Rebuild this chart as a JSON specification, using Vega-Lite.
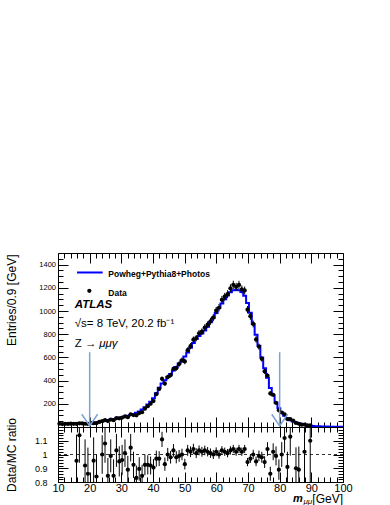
{
"$schema": "https://vega.github.io/schema/vega-lite/v6.json",
"padding": {"left": 4, "top": 252, "right": 5, "bottom": 0},
"spacing": 0,
"bounds": "flush",
"background": "white",
"config": {
  "font": "Liberation Sans",
  "view": {"stroke": "black", "strokeWidth": 1},
  "axis": {"domain": false, "grid": false, "tickColor": "black", "labelColor": "black", "titleColor": "black", "labelFont": "Liberation Sans", "titleFont": "Liberation Sans", "titleFontWeight": "normal", "tickWidth": 1, "labelFlush": false}
},
"datasets": {
  "mc": [
    {"lo":10,"mc":26},{"lo":10.9,"mc":26},{"lo":11.8,"mc":26},{"lo":12.7,"mc":27},{"lo":13.6,"mc":27},{"lo":14.5,"mc":27},{"lo":15.4,"mc":28},{"lo":16.3,"mc":28},{"lo":17.2,"mc":29},{"lo":18.1,"mc":30},
    {"lo":19,"mc":30},{"lo":19.9,"mc":32},{"lo":20.8,"mc":35},{"lo":21.7,"mc":39},{"lo":22.6,"mc":44},{"lo":23.5,"mc":50},{"lo":24.4,"mc":55},{"lo":25.3,"mc":60},{"lo":26.2,"mc":65},{"lo":27.1,"mc":70},
    {"lo":28,"mc":74},{"lo":28.9,"mc":79},{"lo":29.8,"mc":84},{"lo":30.7,"mc":90},{"lo":31.6,"mc":96},{"lo":32.5,"mc":104},{"lo":33.4,"mc":111},{"lo":34.3,"mc":122},{"lo":35.2,"mc":134},{"lo":36.1,"mc":151},
    {"lo":37,"mc":171},{"lo":37.9,"mc":194},{"lo":38.8,"mc":218},{"lo":39.7,"mc":248},{"lo":40.6,"mc":292},{"lo":41.5,"mc":338},{"lo":42.4,"mc":374},{"lo":43.3,"mc":402},{"lo":44.2,"mc":430},{"lo":45.1,"mc":456},
    {"lo":46,"mc":486},{"lo":46.9,"mc":517},{"lo":47.8,"mc":548},{"lo":48.7,"mc":575},{"lo":49.6,"mc":607},{"lo":50.5,"mc":643},{"lo":51.4,"mc":683},{"lo":52.3,"mc":724},{"lo":53.2,"mc":758},{"lo":54.1,"mc":784},
    {"lo":55,"mc":806},{"lo":55.9,"mc":832},{"lo":56.8,"mc":865},{"lo":57.7,"mc":902},{"lo":58.6,"mc":942},{"lo":59.5,"mc":983},{"lo":60.4,"mc":1028},{"lo":61.3,"mc":1065},{"lo":62.2,"mc":1101},{"lo":63.1,"mc":1134},
    {"lo":64,"mc":1161},{"lo":64.9,"mc":1179},{"lo":65.8,"mc":1184},{"lo":66.7,"mc":1178},{"lo":67.6,"mc":1163},{"lo":68.5,"mc":1132},{"lo":69.4,"mc":1070},{"lo":70.3,"mc":985},{"lo":71.2,"mc":888},{"lo":72.1,"mc":795},
    {"lo":73,"mc":700},{"lo":73.9,"mc":600},{"lo":74.8,"mc":507},{"lo":75.7,"mc":425},{"lo":76.6,"mc":336},{"lo":77.5,"mc":273},{"lo":78.4,"mc":210},{"lo":79.3,"mc":162},{"lo":80.2,"mc":125},{"lo":81.1,"mc":97},
    {"lo":82,"mc":75},{"lo":82.9,"mc":59},{"lo":83.8,"mc":48},{"lo":84.7,"mc":39},{"lo":85.6,"mc":32},{"lo":86.5,"mc":26},{"lo":87.4,"mc":21},{"lo":88.3,"mc":16},{"lo":89.2,"mc":12},{"lo":90.1,"mc":9},
    {"lo":91,"mc":7},{"lo":91.9,"mc":6},{"lo":92.8,"mc":5},{"lo":93.7,"mc":4},{"lo":94.6,"mc":4},{"lo":95.5,"mc":3},{"lo":96.4,"mc":3},{"lo":97.3,"mc":2},{"lo":98.2,"mc":2},{"lo":99.1,"mc":2},{"lo":100,"mc":2}
  ],
  "obs": [
    {"m":10.45,"n":28,"e":5.3},{"m":11.35,"n":25,"e":5},{"m":12.25,"n":27,"e":5.2},{"m":13.15,"n":26,"e":5.1},{"m":14.05,"n":29,"e":5.4},{"m":14.95,"n":27,"e":5.2},{"m":15.85,"n":27,"e":5.2},{"m":16.75,"n":32,"e":5.7},{"m":17.65,"n":31,"e":5.6},{"m":18.55,"n":28,"e":5.3},
    {"m":19.45,"n":26,"e":5.1},{"m":20.35,"n":35,"e":5.9},{"m":21.25,"n":33,"e":5.7},{"m":22.15,"n":33,"e":5.7},{"m":23.05,"n":44,"e":6.6},{"m":23.95,"n":50,"e":7.1},{"m":24.85,"n":59,"e":7.7},{"m":25.75,"n":51,"e":7.1},{"m":26.65,"n":64,"e":8},{"m":27.55,"n":59,"e":7.7},
    {"m":28.45,"n":76,"e":8.7},{"m":29.35,"n":75,"e":8.7},{"m":30.25,"n":81,"e":9},{"m":31.15,"n":91,"e":9.5},{"m":32.05,"n":85,"e":9.2},{"m":32.95,"n":109,"e":10.4},{"m":33.85,"n":103,"e":10.1},{"m":34.75,"n":101,"e":10},{"m":35.65,"n":120,"e":11},{"m":36.55,"n":128,"e":11.3},
    {"m":37.45,"n":158,"e":12.6},{"m":38.35,"n":179,"e":13.4},{"m":39.25,"n":201,"e":14.2},{"m":40.15,"n":224,"e":15},{"m":41.05,"n":283,"e":16.8},{"m":41.95,"n":328,"e":18.1},{"m":42.85,"n":415,"e":20.4},{"m":43.75,"n":374,"e":19.3},{"m":44.65,"n":430,"e":20.7},{"m":45.55,"n":447,"e":21.1},
    {"m":46.45,"n":501,"e":22.4},{"m":47.35,"n":507,"e":22.5},{"m":48.25,"n":543,"e":23.3},{"m":49.15,"n":575,"e":24},{"m":50.05,"n":565,"e":23.8},{"m":50.95,"n":662,"e":25.7},{"m":51.85,"n":697,"e":26.4},{"m":52.75,"n":753,"e":27.4},{"m":53.65,"n":766,"e":27.7},{"m":54.55,"n":808,"e":28.4},
    {"m":55.45,"n":822,"e":28.7},{"m":56.35,"n":857,"e":29.3},{"m":57.25,"n":882,"e":29.7},{"m":58.15,"n":911,"e":30.2},{"m":59.05,"n":942,"e":30.7},{"m":59.95,"n":1003,"e":31.7},{"m":60.85,"n":1028,"e":32.1},{"m":61.75,"n":1097,"e":33.1},{"m":62.65,"n":1123,"e":33.5},{"m":63.55,"n":1145,"e":33.8},
    {"m":64.45,"n":1196,"e":34.6},{"m":65.35,"n":1226,"e":35},{"m":66.25,"n":1208,"e":34.8},{"m":67.15,"n":1225,"e":35},{"m":68.05,"n":1186,"e":34.4},{"m":68.95,"n":1177,"e":34.3},{"m":69.85,"n":1011,"e":31.8},{"m":70.75,"n":955,"e":30.9},{"m":71.65,"n":888,"e":29.8},{"m":72.55,"n":755,"e":27.5},
    {"m":73.45,"n":693,"e":26.3},{"m":74.35,"n":588,"e":24.2},{"m":75.25,"n":479,"e":21.9},{"m":76.15,"n":442,"e":21},{"m":77.05,"n":289,"e":17},{"m":77.95,"n":278,"e":16.7},{"m":78.85,"n":208,"e":14.4},{"m":79.75,"n":144,"e":12},{"m":80.65,"n":125,"e":11.2},{"m":81.55,"n":109,"e":10.4},
    {"m":82.45,"n":68,"e":8.2},{"m":83.35,"n":67,"e":8.2},{"m":84.25,"n":55,"e":7.4},{"m":85.15,"n":35,"e":5.9},{"m":86.05,"n":28,"e":5.3},{"m":86.95,"n":20,"e":4.5},{"m":87.85,"n":21,"e":4.6},{"m":88.75,"n":14,"e":3.7},{"m":89.65,"n":13,"e":3.6}
  ],
  "ratio": [
    {"m":15.85,"r":0.954,"e":0.19},{"m":16.75,"r":1.14,"e":0.2},{"m":18.55,"r":0.92,"e":0.19},{"m":19.45,"r":0.86,"e":0.19},{"m":21.25,"r":0.955,"e":0.17},{"m":22.15,"r":0.84,"e":0.16},{"m":23.95,"r":1.0,"e":0.14},{"m":24.85,"r":1.08,"e":0.14},{"m":25.75,"r":0.845,"e":0.13},{"m":26.65,"r":0.99,"e":0.12},
    {"m":27.55,"r":0.845,"e":0.12},{"m":28.45,"r":1.03,"e":0.12},{"m":29.35,"r":0.95,"e":0.11},{"m":30.25,"r":0.96,"e":0.11},{"m":31.15,"r":1.01,"e":0.1},{"m":32.05,"r":0.89,"e":0.1},{"m":32.95,"r":1.05,"e":0.1},{"m":33.85,"r":0.925,"e":0.095},{"m":34.75,"r":0.83,"e":0.09},{"m":35.65,"r":0.895,"e":0.085},
    {"m":36.55,"r":0.845,"e":0.08},{"m":37.45,"r":0.925,"e":0.075},{"m":38.35,"r":0.925,"e":0.07},{"m":39.25,"r":0.92,"e":0.065},{"m":40.15,"r":0.905,"e":0.062},{"m":41.05,"r":0.97,"e":0.058},{"m":41.95,"r":0.97,"e":0.054},{"m":42.85,"r":1.11,"e":0.055},{"m":43.75,"r":0.93,"e":0.048},{"m":44.65,"r":1.0,"e":0.048},
    {"m":45.55,"r":0.98,"e":0.046},{"m":46.45,"r":1.03,"e":0.046},{"m":47.35,"r":0.98,"e":0.044},{"m":48.25,"r":0.99,"e":0.043},{"m":49.15,"r":1.0,"e":0.042},{"m":50.05,"r":0.93,"e":0.039},{"m":50.95,"r":1.03,"e":0.04},{"m":51.85,"r":1.02,"e":0.039},{"m":52.75,"r":1.04,"e":0.038},{"m":53.65,"r":1.01,"e":0.036},
    {"m":54.55,"r":1.03,"e":0.036},{"m":55.45,"r":1.02,"e":0.036},{"m":56.35,"r":1.03,"e":0.035},{"m":57.25,"r":1.02,"e":0.034},{"m":58.15,"r":1.01,"e":0.034},{"m":59.05,"r":1.0,"e":0.033},{"m":59.95,"r":1.02,"e":0.032},{"m":60.85,"r":1.0,"e":0.031},{"m":61.75,"r":1.03,"e":0.031},{"m":62.65,"r":1.02,"e":0.03},
    {"m":63.55,"r":1.01,"e":0.03},{"m":64.45,"r":1.03,"e":0.03},{"m":65.35,"r":1.04,"e":0.03},{"m":66.25,"r":1.02,"e":0.029},{"m":67.15,"r":1.04,"e":0.03},{"m":68.05,"r":1.02,"e":0.03},{"m":68.95,"r":1.04,"e":0.03},{"m":69.85,"r":0.945,"e":0.03},{"m":70.75,"r":0.97,"e":0.031},{"m":71.65,"r":1.0,"e":0.034},
    {"m":72.55,"r":0.95,"e":0.035},{"m":73.45,"r":0.99,"e":0.038},{"m":74.35,"r":0.98,"e":0.04},{"m":75.25,"r":0.945,"e":0.043},{"m":76.15,"r":1.04,"e":0.05},{"m":77.05,"r":0.86,"e":0.051},{"m":77.95,"r":1.02,"e":0.061},{"m":78.85,"r":0.99,"e":0.069},{"m":79.75,"r":0.89,"e":0.074},{"m":80.65,"r":1.0,"e":0.09},
    {"m":81.55,"r":1.12,"e":0.107},{"m":82.45,"r":0.91,"e":0.11},{"m":83.35,"r":1.13,"e":0.138},{"m":85.15,"r":0.9,"e":0.152},{"m":86.05,"r":0.89,"e":0.168},{"m":87.85,"r":1.02,"e":0.22},{"m":89.65,"r":1.1,"e":0.3}
  ],
  "shafts": [{"m":20,"v0":10,"v1":645},{"m":80,"v0":10,"v1":645}],
  "heads": [
    {"g":"a","m":17.5,"v":110},{"g":"a","m":20,"v":10},{"g":"a","m":22.5,"v":110},
    {"g":"b","m":77.5,"v":110},{"g":"b","m":80,"v":10},{"g":"b","m":82.5,"v":110}
  ]
},
"vconcat": [
  {
    "width": 285, "height": 174,
    "resolve": {"axis": {"x": "independent", "y": "independent"}},
    "layer": [
      {
        "data": {"name": "mc"},
        "mark": {"type": "line", "interpolate": "step-after", "color": "#0000ff", "strokeWidth": 2},
        "encoding": {
          "x": {"field": "lo", "type": "quantitative", "scale": {"domain": [10, 100], "nice": false, "zero": false},
                "axis": {"orient": "bottom", "values": [10,20,30,40,50,60,70,80,90,100], "labels": false, "tickSize": -10, "title": null}},
          "y": {"field": "mc", "type": "quantitative", "scale": {"domain": [0, 1500], "nice": false},
                "axis": {"orient": "left", "values": [200,400,600,800,1000,1200,1400], "format": "d", "tickSize": -10, "labelFontSize": 7.5, "labelPadding": 12.5,
                         "title": "Entries/0.9 [GeV]", "titleFontSize": 12, "titleAnchor": "end", "titleY": 1, "titleX": -40}}
        }
      },
      {
        "data": {"name": "obs"},
        "mark": {"type": "errorbar", "color": "black", "thickness": 1},
        "encoding": {
          "x": {"field": "m", "type": "quantitative", "scale": {"domain": [10, 100], "nice": false, "zero": false}, "axis": null},
          "y": {"field": "n", "type": "quantitative", "scale": {"domain": [0, 1500], "nice": false}, "axis": null},
          "yError": {"field": "e"}
        }
      },
      {
        "data": {"name": "obs"},
        "mark": {"type": "circle", "color": "black", "size": 18, "opacity": 1},
        "encoding": {
          "x": {"field": "m", "type": "quantitative", "scale": {"domain": [10, 100], "nice": false, "zero": false},
                "axis": {"orient": "bottom", "values": [12,14,16,18,22,24,26,28,32,34,36,38,42,44,46,48,52,54,56,58,62,64,66,68,72,74,76,78,82,84,86,88,92,94,96,98], "labels": false, "tickSize": -5, "title": null}},
          "y": {"field": "n", "type": "quantitative", "scale": {"domain": [0, 1500], "nice": false},
                "axis": {"orient": "left", "values": [50,100,150,250,300,350,450,500,550,650,700,750,850,900,950,1050,1100,1150,1250,1300,1350,1450], "labels": false, "tickSize": -5, "title": null}}
        }
      },
      {
        "data": {"name": "shafts"},
        "mark": {"type": "rule", "color": "#7ea1d6", "strokeWidth": 1.5},
        "encoding": {
          "x": {"field": "m", "type": "quantitative", "scale": {"domain": [10, 100], "nice": false, "zero": false},
                "axis": {"orient": "top", "values": [10,20,30,40,50,60,70,80,90,100], "labels": false, "tickSize": -10, "title": null}},
          "y": {"field": "v0", "type": "quantitative", "scale": {"domain": [0, 1500], "nice": false},
                "axis": {"orient": "right", "values": [200,400,600,800,1000,1200,1400], "labels": false, "tickSize": -10, "title": null}},
          "y2": {"field": "v1"}
        }
      },
      {
        "data": {"name": "heads"},
        "mark": {"type": "line", "color": "#7ea1d6", "strokeWidth": 1.5},
        "encoding": {
          "x": {"field": "m", "type": "quantitative", "scale": {"domain": [10, 100], "nice": false, "zero": false},
                "axis": {"orient": "top", "values": [12,14,16,18,22,24,26,28,32,34,36,38,42,44,46,48,52,54,56,58,62,64,66,68,72,74,76,78,82,84,86,88,92,94,96,98], "labels": false, "tickSize": -5, "title": null}},
          "y": {"field": "v", "type": "quantitative", "scale": {"domain": [0, 1500], "nice": false},
                "axis": {"orient": "right", "values": [50,100,150,250,300,350,450,500,550,650,700,750,850,900,950,1050,1100,1150,1250,1300,1350,1450], "labels": false, "tickSize": -5, "title": null}},
          "detail": {"field": "g"}
        }
      },
      {
        "data": {"values": [{"a": 16, "b": 24.1, "v": 1332}]},
        "mark": {"type": "rule", "color": "#0000ff", "strokeWidth": 2},
        "encoding": {
          "x": {"field": "a", "type": "quantitative", "scale": {"domain": [10, 100], "nice": false, "zero": false}, "axis": null},
          "x2": {"field": "b"},
          "y": {"field": "v", "type": "quantitative", "scale": {"domain": [0, 1500], "nice": false}, "axis": null}
        }
      },
      {
        "data": {"values": [{"m": 19.9, "v": 1174}]},
        "mark": {"type": "circle", "color": "black", "size": 18, "opacity": 1},
        "encoding": {
          "x": {"field": "m", "type": "quantitative", "scale": {"domain": [10, 100], "nice": false, "zero": false}, "axis": null},
          "y": {"field": "v", "type": "quantitative", "scale": {"domain": [0, 1500], "nice": false}, "axis": null}
        }
      },
      {
        "data": {"values": [{"t": "Powheg+Pythia8+Photos", "m": 25.9, "v": 1317}, {"t": "Data", "m": 25.9, "v": 1151}]},
        "mark": {"type": "text", "align": "left", "baseline": "middle", "fontSize": 8.5, "fontWeight": "bold", "color": "black", "font": "Liberation Sans"},
        "encoding": {
          "x": {"field": "m", "type": "quantitative", "scale": {"domain": [10, 100], "nice": false, "zero": false}, "axis": null},
          "y": {"field": "v", "type": "quantitative", "scale": {"domain": [0, 1500], "nice": false}, "axis": null},
          "text": {"field": "t"}
        }
      },
      {
        "data": {"values": [{"t": "ATLAS", "m": 15.3, "v": 1053}]},
        "mark": {"type": "text", "align": "left", "baseline": "middle", "fontSize": 11.5, "fontWeight": "bold", "fontStyle": "italic", "color": "black", "font": "Liberation Sans"},
        "encoding": {
          "x": {"field": "m", "type": "quantitative", "scale": {"domain": [10, 100], "nice": false, "zero": false}, "axis": null},
          "y": {"field": "v", "type": "quantitative", "scale": {"domain": [0, 1500], "nice": false}, "axis": null},
          "text": {"field": "t"}
        }
      },
      {
        "data": {"values": [{"t": "√s= 8 TeV, 20.2 fb⁻¹", "m": 15.3, "v": 886}, {"t": "Z → ", "m": 15.3, "v": 714}]},
        "mark": {"type": "text", "align": "left", "baseline": "middle", "fontSize": 11.5, "color": "black", "font": "Liberation Sans"},
        "encoding": {
          "x": {"field": "m", "type": "quantitative", "scale": {"domain": [10, 100], "nice": false, "zero": false}, "axis": null},
          "y": {"field": "v", "type": "quantitative", "scale": {"domain": [0, 1500], "nice": false}, "axis": null},
          "text": {"field": "t"}
        }
      },
      {
        "data": {"values": [{"t": "μμγ", "m": 23.0, "v": 714}]},
        "mark": {"type": "text", "align": "left", "baseline": "middle", "fontSize": 11.5, "fontStyle": "italic", "color": "black", "font": "Liberation Sans"},
        "encoding": {
          "x": {"field": "m", "type": "quantitative", "scale": {"domain": [10, 100], "nice": false, "zero": false}, "axis": null},
          "y": {"field": "v", "type": "quantitative", "scale": {"domain": [0, 1500], "nice": false}, "axis": null},
          "text": {"field": "t"}
        }
      }
    ]
  },
  {
    "width": 285, "height": 55,
    "resolve": {"axis": {"x": "independent", "y": "independent"}},
    "layer": [
      {
        "data": {"values": [{"a": 1}]},
        "mark": {"type": "rule", "color": "black", "strokeWidth": 0.8, "strokeDash": [3, 3]},
        "encoding": {
          "y": {"datum": 1, "type": "quantitative", "scale": {"domain": [0.8, 1.2], "nice": false, "zero": false},
                "axis": {"orient": "left", "values": [0.8, 0.9, 1, 1.1], "format": "~g", "tickSize": -10, "labelFontSize": 9, "labelPadding": 21,
                         "title": "Data/MC ratio", "titleFontSize": 12, "titleX": -40}}
        }
      },
      {
        "data": {"name": "ratio"},
        "mark": {"type": "errorbar", "color": "black", "thickness": 1, "clip": true},
        "encoding": {
          "x": {"field": "m", "type": "quantitative", "scale": {"domain": [10, 100], "nice": false, "zero": false},
                "axis": {"orient": "bottom", "values": [10,20,30,40,50,60,70,80,90,100], "tickSize": -10, "labelFontSize": 11, "labelPadding": 10, "title": null}},
          "y": {"field": "r", "type": "quantitative", "scale": {"domain": [0.8, 1.2], "nice": false, "zero": false}, "axis": null},
          "yError": {"field": "e"}
        }
      },
      {
        "data": {"name": "ratio"},
        "mark": {"type": "circle", "color": "black", "size": 18, "opacity": 1, "clip": true},
        "encoding": {
          "x": {"field": "m", "type": "quantitative", "scale": {"domain": [10, 100], "nice": false, "zero": false},
                "axis": {"orient": "bottom", "values": [12,14,16,18,22,24,26,28,32,34,36,38,42,44,46,48,52,54,56,58,62,64,66,68,72,74,76,78,82,84,86,88,92,94,96,98], "labels": false, "tickSize": -5, "title": null}},
          "y": {"field": "r", "type": "quantitative", "scale": {"domain": [0.8, 1.2], "nice": false, "zero": false},
                "axis": {"orient": "left", "values": [0.82,0.84,0.86,0.88,0.92,0.94,0.96,0.98,1.02,1.04,1.06,1.08,1.12,1.14,1.16,1.18], "labels": false, "tickSize": -5, "title": null}}
        }
      },
      {
        "data": {"values": [{"t": "m", "m": 84.2, "v": 0.676}]},
        "mark": {"type": "text", "align": "left", "baseline": "middle", "fontSize": 11, "fontWeight": "bold", "fontStyle": "italic", "color": "black", "font": "Liberation Sans"},
        "encoding": {
          "x": {"field": "m", "type": "quantitative", "scale": {"domain": [10, 100], "nice": false, "zero": false},
                "axis": {"orient": "top", "values": [10,20,30,40,50,60,70,80,90,100], "labels": false, "tickSize": -10, "title": null}},
          "y": {"field": "v", "type": "quantitative", "scale": {"domain": [0.8, 1.2], "nice": false, "zero": false},
                "axis": {"orient": "right", "values": [0.8, 0.9, 1, 1.1, 1.2], "labels": false, "tickSize": -10, "title": null}},
          "text": {"field": "t"}
        }
      },
      {
        "data": {"values": [{"t": "μμ", "m": 87.5, "v": 0.658}]},
        "mark": {"type": "text", "align": "left", "baseline": "middle", "fontSize": 8, "fontStyle": "italic", "color": "black", "font": "Liberation Sans"},
        "encoding": {
          "x": {"field": "m", "type": "quantitative", "scale": {"domain": [10, 100], "nice": false, "zero": false},
                "axis": {"orient": "top", "values": [12,14,16,18,22,24,26,28,32,34,36,38,42,44,46,48,52,54,56,58,62,64,66,68,72,74,76,78,82,84,86,88,92,94,96,98], "labels": false, "tickSize": -5, "title": null}},
          "y": {"field": "v", "type": "quantitative", "scale": {"domain": [0.8, 1.2], "nice": false, "zero": false},
                "axis": {"orient": "right", "values": [0.82,0.84,0.86,0.88,0.92,0.94,0.96,0.98,1.02,1.04,1.06,1.08,1.12,1.14,1.16,1.18], "labels": false, "tickSize": -5, "title": null}},
          "text": {"field": "t"}
        }
      },
      {
        "data": {"values": [{"t": "[GeV]", "m": 100, "v": 0.676}]},
        "mark": {"type": "text", "align": "right", "baseline": "middle", "fontSize": 12, "color": "black", "font": "Liberation Sans"},
        "encoding": {
          "x": {"field": "m", "type": "quantitative", "scale": {"domain": [10, 100], "nice": false, "zero": false}, "axis": null},
          "y": {"field": "v", "type": "quantitative", "scale": {"domain": [0.8, 1.2], "nice": false, "zero": false}, "axis": null},
          "text": {"field": "t"}
        }
      }
    ]
  }
]
}
